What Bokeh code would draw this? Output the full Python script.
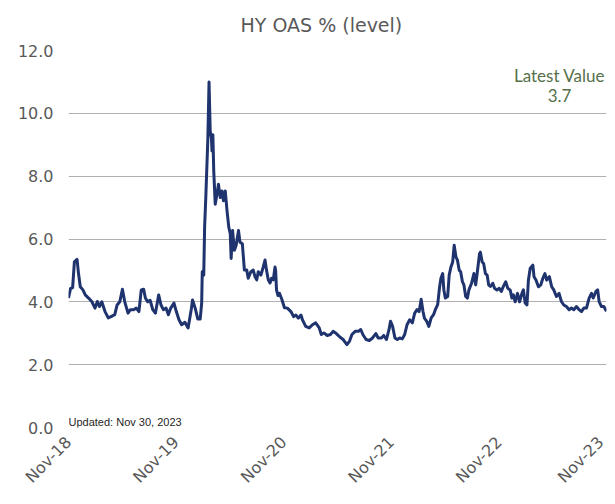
import math
import pandas as pd
from bokeh.plotting import figure
from bokeh.models import Range1d, FixedTicker, PrintfTickFormatter, DatetimeTickFormatter, Label
from bokeh.embed import file_html
from bokeh.resources import INLINE

title_text = "HY OAS % (level)"

dates = [
    "2018-11-30", "2018-12-07", "2018-12-14", "2018-12-20", "2018-12-29", "2019-01-03", "2019-01-09",
    "2019-01-18", "2019-01-26", "2019-02-06", "2019-02-17", "2019-02-28", "2019-03-08", "2019-03-15",
    "2019-03-23", "2019-04-03", "2019-04-14", "2019-04-25", "2019-05-06", "2019-05-14", "2019-05-23",
    "2019-06-01", "2019-06-09", "2019-06-20", "2019-06-28", "2019-07-09", "2019-07-18", "2019-07-27",
    "2019-08-04", "2019-08-12", "2019-08-18", "2019-08-26", "2019-09-03", "2019-09-12", "2019-09-21",
    "2019-10-02", "2019-10-10", "2019-10-18", "2019-10-27", "2019-11-04", "2019-11-12", "2019-11-23",
    "2019-12-01", "2019-12-10", "2019-12-19", "2019-12-30", "2020-01-10", "2020-01-21", "2020-01-25",
    "2020-02-03", "2020-02-12", "2020-02-20", "2020-02-25", "2020-02-27", "2020-03-03", "2020-03-06",
    "2020-03-10", "2020-03-17", "2020-03-21", "2020-03-25", "2020-03-29", "2020-03-31", "2020-04-03",
    "2020-04-06", "2020-04-11", "2020-04-17", "2020-04-22", "2020-04-28", "2020-05-04", "2020-05-09",
    "2020-05-15", "2020-05-21", "2020-05-27", "2020-06-01", "2020-06-04", "2020-06-09", "2020-06-15",
    "2020-06-21", "2020-06-29", "2020-07-04", "2020-07-12", "2020-07-19", "2020-07-27", "2020-08-01",
    "2020-08-10", "2020-08-18", "2020-08-24", "2020-08-30", "2020-09-04", "2020-09-13", "2020-09-21",
    "2020-09-27", "2020-10-02", "2020-10-08", "2020-10-14", "2020-10-19", "2020-10-25", "2020-10-31",
    "2020-11-02", "2020-11-05", "2020-11-10", "2020-11-15", "2020-11-23", "2020-12-02", "2020-12-12",
    "2020-12-24", "2021-01-02", "2021-01-10", "2021-01-18", "2021-01-27", "2021-02-01", "2021-02-12",
    "2021-02-24", "2021-03-07", "2021-03-18", "2021-03-30", "2021-04-06", "2021-04-15", "2021-04-26",
    "2021-05-07", "2021-05-16", "2021-05-27", "2021-06-08", "2021-06-19", "2021-07-02", "2021-07-11",
    "2021-07-19", "2021-07-30", "2021-08-10", "2021-08-18", "2021-08-25", "2021-09-05", "2021-09-16",
    "2021-09-27", "2021-10-08", "2021-10-16", "2021-10-27", "2021-11-04", "2021-11-13", "2021-11-22",
    "2021-11-27", "2021-12-04", "2021-12-12", "2021-12-20", "2021-12-28", "2022-01-06", "2022-01-14",
    "2022-01-22", "2022-01-31", "2022-02-09", "2022-02-17", "2022-02-25", "2022-03-04", "2022-03-11",
    "2022-03-17", "2022-03-22", "2022-03-30", "2022-04-06", "2022-04-14", "2022-04-22", "2022-04-28",
    "2022-05-06", "2022-05-12", "2022-05-17", "2022-05-23", "2022-05-27", "2022-06-01", "2022-06-09",
    "2022-06-14", "2022-06-20", "2022-06-26", "2022-07-01", "2022-07-07", "2022-07-12", "2022-07-18",
    "2022-07-23", "2022-07-29", "2022-08-03", "2022-08-09", "2022-08-15", "2022-08-20", "2022-08-29",
    "2022-09-06", "2022-09-12", "2022-09-17", "2022-09-25", "2022-09-28", "2022-10-04", "2022-10-09",
    "2022-10-15", "2022-10-21", "2022-10-26", "2022-11-01", "2022-11-09", "2022-11-15", "2022-11-23",
    "2022-12-01", "2022-12-08", "2022-12-15", "2022-12-23", "2022-12-30", "2023-01-07", "2023-01-13",
    "2023-01-18", "2023-01-24", "2023-02-01", "2023-02-08", "2023-02-16", "2023-02-21", "2023-02-27",
    "2023-03-05", "2023-03-10", "2023-03-16", "2023-03-25", "2023-03-29", "2023-04-05", "2023-04-13",
    "2023-04-21", "2023-04-28", "2023-05-05", "2023-05-11", "2023-05-20", "2023-05-28", "2023-06-04",
    "2023-06-13", "2023-06-22", "2023-06-30", "2023-07-08", "2023-07-17", "2023-07-26", "2023-08-03",
    "2023-08-11", "2023-08-20", "2023-08-29", "2023-09-06", "2023-09-14", "2023-09-23", "2023-10-02",
    "2023-10-10", "2023-10-16", "2023-10-25", "2023-10-31", "2023-11-05", "2023-11-13", "2023-11-21",
    "2023-11-27", "2023-11-30",
]

values = [
    4.12, 4.43, 4.45, 5.27, 5.35, 4.90, 4.48,
    4.38, 4.22, 4.12, 4.01, 3.80, 4.01, 3.85,
    4.00, 3.69, 3.49, 3.54, 3.59, 3.90, 4.00,
    4.40, 4.00, 3.64, 3.75, 3.75, 3.80, 3.69,
    4.38, 4.40, 4.12, 4.00, 4.05, 3.75, 3.64,
    4.22, 3.90, 3.75, 3.80, 3.59, 3.80, 3.96,
    3.69, 3.43, 3.27, 3.35, 3.17, 3.78, 4.06,
    3.80, 3.45, 3.45, 3.96, 4.96, 4.85, 6.38,
    7.32, 9.21, 11.00, 9.43, 9.21, 8.80, 9.32,
    8.16, 7.11, 7.43, 7.74, 7.32, 7.53, 7.22,
    7.53, 6.90, 6.38, 6.17, 5.38, 6.27, 5.64,
    5.80, 6.27, 5.90, 5.85, 5.01, 5.01, 4.75,
    4.96, 5.01, 4.80, 4.70, 4.96, 4.85, 5.11,
    5.33, 5.01, 4.70, 4.60, 4.75, 4.70, 5.11,
    5.00, 4.38, 4.20, 4.27, 4.08, 3.81, 3.80,
    3.69, 3.53, 3.58, 3.48, 3.58, 3.43, 3.22,
    3.17, 3.27, 3.33, 3.17, 2.96, 3.01, 2.93,
    2.96, 3.06, 2.99, 2.88, 2.80, 2.64, 2.75,
    2.96, 3.06, 3.06, 3.12, 2.96, 2.80, 2.77,
    2.85, 2.99, 2.85, 2.85, 2.93, 2.80, 3.12,
    3.38, 3.22, 2.85, 2.80, 2.85, 2.82, 2.96,
    3.27, 3.43, 3.33, 3.64, 3.75, 3.69, 4.08,
    3.70, 3.48, 3.38, 3.22, 3.49, 3.59, 3.75,
    3.91, 4.43, 4.75, 4.90, 4.38, 4.12, 4.17,
    4.85, 5.11, 5.27, 5.80, 5.43, 5.33, 5.01,
    4.96, 4.64, 4.54, 4.17, 4.12, 4.38, 4.59,
    4.90, 4.54, 4.90, 5.53, 5.58, 5.27, 5.22,
    4.90, 4.85, 4.54, 4.49, 4.59, 4.43, 4.38,
    4.43, 4.33, 4.49, 4.64, 4.43, 4.38, 4.12,
    4.22, 4.00, 4.27, 4.00, 4.27, 4.38, 3.96,
    3.90, 4.69, 5.06, 5.17, 4.80, 4.69, 4.48,
    4.54, 4.75, 4.90, 4.69, 4.80, 4.48, 4.38,
    4.17, 4.27, 4.01, 3.90, 3.85, 3.75, 3.80,
    3.75, 3.85, 3.75, 3.69, 3.80, 3.80, 4.12,
    4.27, 4.12, 4.33, 4.38, 4.01, 3.85, 3.85,
    3.75, 3.70,
]

tick_dates = ["2018-11-30", "2019-11-30", "2020-11-30", "2021-11-30", "2022-11-30", "2023-11-30"]
tick_labels = ["Nov-18", "Nov-19", "Nov-20", "Nov-21", "Nov-22", "Nov-23"]
y_ticks = [0, 2, 4, 6, 8, 10, 12]

latest_caption = "Latest Value"
latest_value = 3.7
updated_text = "Updated: Nov 30, 2023"

x = pd.to_datetime(dates)
tick_ms = [int(pd.Timestamp(d).value // 10**6) for d in tick_dates]

p = figure(
    width=607, height=496,
    x_axis_type="datetime",
    x_range=Range1d(tick_ms[0], tick_ms[-1]),
    y_range=Range1d(y_ticks[0], y_ticks[-1]),
    output_backend="svg", toolbar_location=None,
    min_border_left=68, min_border_right=1, min_border_top=48, min_border_bottom=68,
)
p.outline_line_color = None
p.background_fill_color = "white"
p.border_fill_color = "white"

p.title.text = title_text
p.title.align = "left"
p.title.offset = 172
p.title.vertical_align = "top"
p.title.standoff = 26
p.title.text_font = "DejaVu Sans"
p.title.text_font_size = "19px"
p.title.text_font_style = "normal"
p.title.text_color = "#595959"

p.xgrid.visible = False
p.ygrid.grid_line_color = "#b0b0b0"
p.ygrid.grid_line_width = 1

yax = p.yaxis[0]
yax.ticker = FixedTicker(ticks=y_ticks)
yax.formatter = PrintfTickFormatter(format="%.1f")
yax.axis_line_color = None
yax.major_tick_line_color = None
yax.minor_tick_line_color = None
yax.major_tick_out = 0
yax.major_label_standoff = 15
yax.major_label_text_font = "DejaVu Sans"
yax.major_label_text_font_size = "16px"
yax.major_label_text_color = "#595959"

xax = p.xaxis[0]
xax.ticker = FixedTicker(ticks=tick_ms)
xax.formatter = DatetimeTickFormatter(years="%b-%y", months="%b-%y", days="%b-%y")
xax.major_label_overrides = dict(zip(tick_ms, tick_labels))
xax.major_label_orientation = math.pi / 4
xax.axis_line_color = None
xax.major_tick_line_color = None
xax.minor_tick_line_color = None
xax.major_tick_out = 0
xax.major_label_standoff = 12
xax.major_label_text_font = "DejaVu Sans"
xax.major_label_text_font_size = "16px"
xax.major_label_text_color = "#595959"

p.line(x, values, line_color="#1f346e", line_width=3, line_join="round")

p.add_layout(Label(x=tick_ms[-1], y=y_ticks[-1], x_offset=-47, y_offset=-25,
                   text=latest_caption, text_align="center", text_baseline="middle",
                   text_font="Lato", text_font_size="17px", text_color="#56704a"))
p.add_layout(Label(x=tick_ms[-1], y=y_ticks[-1], x_offset=-47, y_offset=-45,
                   text=f"{latest_value:.1f}", text_align="center", text_baseline="middle",
                   text_font="Lato", text_font_size="17px", text_color="#56704a"))
p.add_layout(Label(x=tick_ms[0], y=y_ticks[0], x_offset=0, y_offset=6,
                   text=updated_text, text_align="left", text_baseline="alphabetic",
                   text_font="Liberation Sans", text_font_size="11px", text_color="#262626"))

open("out.html", "w").write(file_html(p, INLINE))
